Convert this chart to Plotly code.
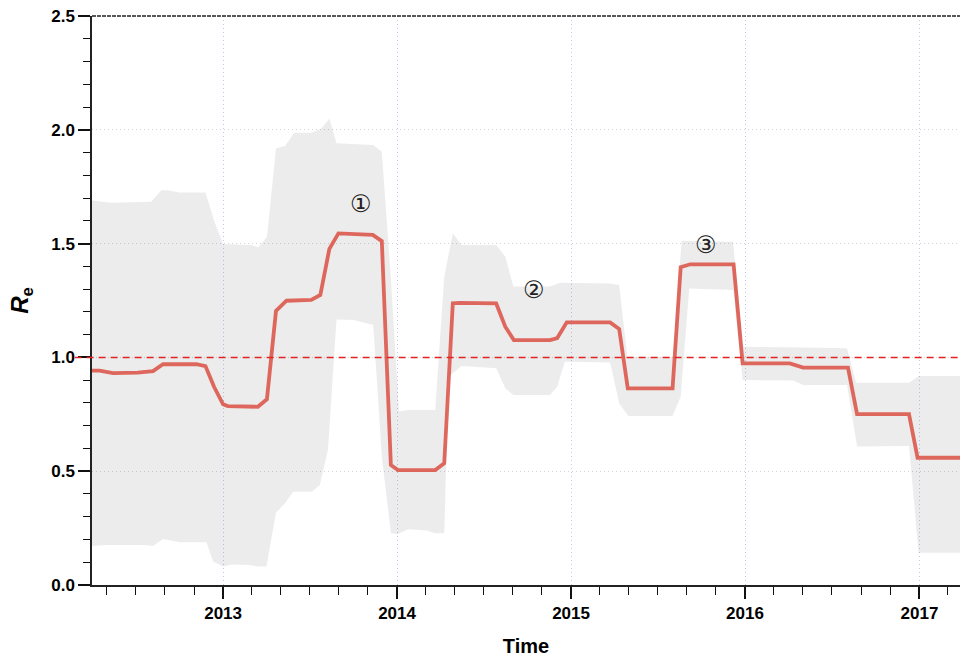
import plotly.graph_objects as go

# ---- data ----
line_dates = [
    "2012-04-01", "2012-04-17", "2012-05-15", "2012-07-06", "2012-08-07", "2012-08-28",
    "2012-11-06", "2012-11-25", "2012-12-13", "2013-01-01", "2013-01-11", "2013-03-15",
    "2013-04-03", "2013-04-22", "2013-05-14", "2013-07-05", "2013-07-24", "2013-08-12",
    "2013-08-31", "2013-11-11", "2013-11-30", "2013-12-19", "2014-01-03", "2014-03-22",
    "2014-04-10", "2014-04-28", "2014-05-13", "2014-07-28", "2014-08-16", "2014-09-03",
    "2014-11-18", "2014-12-03", "2014-12-23", "2015-03-24", "2015-04-12", "2015-04-30",
    "2015-08-02", "2015-08-19", "2015-09-08", "2015-12-08", "2015-12-27", "2016-04-04",
    "2016-05-02", "2016-08-04", "2016-08-23", "2016-12-10", "2016-12-28", "2017-03-27",
]
line_values = [
    0.942, 0.942, 0.931, 0.933, 0.940, 0.970,
    0.970, 0.962, 0.871, 0.794, 0.786, 0.783,
    0.816, 1.204, 1.249, 1.253, 1.274, 1.477,
    1.545, 1.538, 1.511, 0.527, 0.505, 0.505,
    0.535, 1.238, 1.240, 1.237, 1.135, 1.076,
    1.076, 1.085, 1.154, 1.154, 1.125, 0.864,
    0.864, 1.396, 1.409, 1.409, 0.974, 0.974,
    0.955, 0.955, 0.751, 0.751, 0.559, 0.559,
]

upper_dates = [
    "2012-04-01", "2012-05-11", "2012-08-03", "2012-08-25", "2012-09-10", "2012-10-01",
    "2012-11-25", "2012-12-14", "2013-01-01", "2013-03-01", "2013-03-16", "2013-04-03",
    "2013-04-22", "2013-05-11", "2013-05-30", "2013-07-06", "2013-07-26", "2013-08-12",
    "2013-08-27", "2013-11-12", "2013-11-30", "2013-12-19", "2014-01-05", "2014-01-24",
    "2014-03-22", "2014-04-10", "2014-04-28", "2014-05-16", "2014-07-28", "2014-08-16",
    "2014-09-02", "2014-11-18", "2014-12-09", "2015-03-24", "2015-04-12", "2015-04-29",
    "2015-08-03", "2015-08-21", "2015-12-07", "2015-12-28", "2016-05-02", "2016-08-02",
    "2016-08-21", "2016-12-10", "2016-12-30", "2017-03-27",
]
upper_values = [
    1.689, 1.680, 1.684, 1.735, 1.733, 1.724,
    1.724, 1.596, 1.498, 1.494, 1.484, 1.530,
    1.919, 1.929, 1.987, 1.987, 2.006, 2.050,
    1.941, 1.933, 1.904, 1.350, 0.762, 0.769,
    0.769, 1.355, 1.545, 1.494, 1.494, 1.443,
    1.311, 1.311, 1.328, 1.325, 1.318, 1.003,
    1.003, 1.513, 1.508, 1.047, 1.044, 1.040,
    0.889, 0.889, 0.918, 0.918,
]

lower_dates = [
    "2012-04-01", "2012-05-02", "2012-07-17", "2012-08-07", "2012-08-28", "2012-10-02",
    "2012-11-27", "2012-12-11", "2013-01-01", "2013-01-19", "2013-02-26", "2013-03-15",
    "2013-04-02", "2013-04-22", "2013-05-11", "2013-05-28", "2013-07-06", "2013-07-23",
    "2013-08-09", "2013-08-27", "2013-10-01", "2013-11-12", "2013-11-30", "2013-12-19",
    "2014-01-03", "2014-01-24", "2014-03-04", "2014-03-22", "2014-04-10", "2014-04-19",
    "2014-04-28", "2014-05-16", "2014-06-08", "2014-07-28", "2014-08-16", "2014-09-02",
    "2014-11-18", "2014-12-03", "2014-12-19", "2015-03-24", "2015-04-12", "2015-05-01",
    "2015-08-02", "2015-08-19", "2015-09-06", "2015-12-07", "2015-12-27", "2016-04-11",
    "2016-05-02", "2016-08-02", "2016-08-23", "2016-12-10", "2016-12-30", "2017-03-27",
]
lower_values = [
    0.171, 0.176, 0.176, 0.171, 0.202, 0.188,
    0.188, 0.103, 0.081, 0.090, 0.088, 0.081,
    0.081, 0.318, 0.359, 0.410, 0.410, 0.439,
    0.593, 1.167, 1.164, 1.142, 0.564, 0.227,
    0.224, 0.245, 0.239, 0.227, 0.227, 0.915,
    0.930, 0.962, 0.959, 0.952, 0.864, 0.835,
    0.835, 0.871, 0.981, 0.978, 0.798, 0.742,
    0.742, 0.827, 1.303, 1.296, 0.901, 0.898,
    0.879, 0.879, 0.608, 0.611, 0.142, 0.142,
]

annot_labels = ["①", "②", "③"]
annot_dates = ["2013-10-17", "2014-10-15", "2015-10-11"]
annot_values = [1.674, 1.296, 1.494]

x_range = ["2012-04-01", "2017-03-27"]
y_range = [0, 2.5]

# ---- figure ----
fig = go.Figure()

# confidence band as a closed polygon
band_x = upper_dates + lower_dates[::-1]
band_y = upper_values + lower_values[::-1]
fig.add_trace(go.Scatter(
    x=band_x, y=band_y, fill="toself", mode="lines",
    line=dict(width=0), fillcolor="rgba(0,0,0,0.075)",
    hoverinfo="skip", showlegend=False,
))

fig.add_trace(go.Scatter(
    x=line_dates, y=line_values, mode="lines",
    line=dict(color="rgba(220,80,68,0.85)", width=3.8),
    showlegend=False,
))

# reference line at Re = 1 (extends slightly left of the axis, as in the original)
fig.add_shape(type="line", xref="paper", x0=-0.02, x1=1, yref="y", y0=1, y1=1,
              line=dict(color="#e02424", width=1.5, dash="7px,5px"), layer="above")
# dashed top frame
fig.add_shape(type="line", xref="paper", x0=0, x1=1, yref="paper", y0=1, y1=1,
              line=dict(color="#222", width=1.3, dash="4px,1px"), layer="above")

for lab, d, v in zip(annot_labels, annot_dates, annot_values):
    fig.add_annotation(x=d, y=v, text=lab, showarrow=False,
                       font=dict(family="DejaVu Sans", size=24, color="#222"))

tickfont = dict(family="Liberation Sans, Arial", size=17, color="#000", weight="bold")

fig.update_layout(
    width=960, height=657,
    margin=dict(l=92, r=0, t=16, b=72),
    paper_bgcolor="white", plot_bgcolor="white",
    xaxis=dict(
        type="date", range=x_range,
        tick0="2013-01-01", dtick="M12", tickformat="%Y",
        ticks="outside", ticklen=12, tickwidth=1.5, tickcolor="#111",
        showline=True, linecolor="#222", linewidth=1.5,
        showgrid=True, gridcolor="#c4c4f0", griddash="1px,3px", gridwidth=1,
        zeroline=False,
        tickfont=tickfont,
        minor=dict(dtick="M2", tick0="2013-01-01", ticks="outside", ticklen=8,
                   tickwidth=1.3, tickcolor="#111", showgrid=False),
        title=dict(text="Time", font=dict(family="Liberation Sans, Arial", size=20,
                                          color="#000", weight="bold"), standoff=20),
        automargin=False,
    ),
    yaxis=dict(
        range=y_range, tick0=0, dtick=0.5, tickformat=".1f",
        ticks="outside", ticklen=12, tickwidth=1.5, tickcolor="#111",
        showline=True, linecolor="#222", linewidth=1.5,
        showgrid=True, gridcolor="#d4d4d4", griddash="1px,3px", gridwidth=1,
        zeroline=False,
        tickfont=tickfont,
        minor=dict(dtick=0.1, ticks="outside", ticklen=7, tickwidth=1.3,
                   tickcolor="#111", showgrid=False),
        title=dict(text="<b><i>R</i><sub>e</sub></b>",
                   font=dict(family="Liberation Sans, Arial", size=24, color="#000"),
                   standoff=16),
        automargin=False,
    ),
)

fig.write_html("out.html", config={"displayModeBar": False},
               post_script="document.body.style.margin='0';document.body.style.overflow='hidden';")
